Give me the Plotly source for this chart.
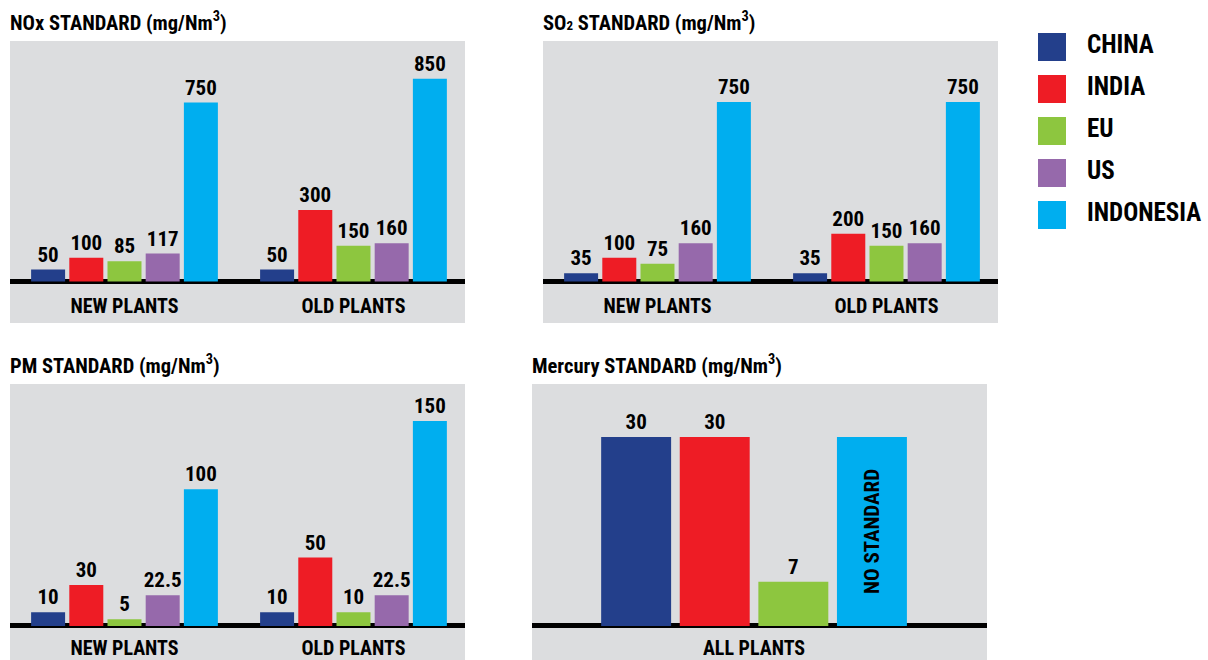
import plotly.graph_objects as go

W, H = 1208, 660

countries = ["CHINA", "INDIA", "EU", "US", "INDONESIA"]
colors = ["#233F8B", "#EE1C25", "#8DC63F", "#9669AB", "#00AEEF"]
plant_cats = ["NEW PLANTS", "OLD PLANTS"]

nox_new = [50, 100, 85, 117, 750]
nox_old = [50, 300, 150, 160, 850]
so2_new = [35, 100, 75, 160, 750]
so2_old = [35, 200, 150, 160, 750]
pm_new = [10, 30, 5, 22.5, 100]
pm_old = [10, 50, 10, 22.5, 150]

merc_countries = ["CHINA", "INDIA", "EU", "INDONESIA"]
merc_cat = ["ALL PLANTS"]
merc_values = [30, 30, 7, 30]
merc_labels = ["30", "30", "7", "NO STANDARD"]

FONT = "Roboto Condensed, Open Sans Condensed, DejaVu Sans Condensed, sans-serif"
BG = "#DCDDDF"

def px_x(a, b):
    return [a / W, b / W]

def px_y(top, bottom):
    return [1 - bottom / H, 1 - top / H]

fig = go.Figure()

panels = [
    ("x", "y", nox_new, nox_old),
    ("x2", "y2", so2_new, so2_old),
    ("x3", "y3", pm_new, pm_old),
]
for xa, ya, new, old in panels:
    for i, c in enumerate(countries):
        vals = [new[i], old[i]]
        fig.add_trace(go.Bar(
            x=plant_cats, y=vals, xaxis=xa, yaxis=ya,
            marker=dict(color=colors[i], line=dict(width=0)),
            text=[str(v) for v in vals], textposition="outside",
            textfont=dict(family=FONT, size=21, color="black", weight="bold"),
            constraintext="none", cliponaxis=False, showlegend=False,
            name=c, offsetgroup=c,
        ))

for i, c in enumerate(merc_countries):
    ci = countries.index(c)
    inside = merc_labels[i] == "NO STANDARD"
    fig.add_trace(go.Bar(
        x=merc_cat, y=[merc_values[i]], xaxis="x4", yaxis="y4",
        marker=dict(color=colors[ci], line=dict(width=0)),
        text=[merc_labels[i]],
        textposition="inside" if inside else "outside",
        textangle=-90 if inside else 0,
        insidetextanchor="middle",
        textfont=dict(family=FONT, size=21, color="black", weight="bold"),
        constraintext="none", cliponaxis=False, showlegend=False,
        name=c, offsetgroup=c,
    ))

# custom legend
fig.add_trace(go.Scatter(
    x=[0] * len(countries), y=countries, xaxis="x5", yaxis="y5",
    mode="markers", marker=dict(symbol="square", size=28, color=colors, line=dict(width=0)),
    showlegend=False, hoverinfo="skip",
))
fig.add_trace(go.Scatter(
    x=[1] * len(countries), y=countries, xaxis="x5", yaxis="y5",
    mode="text", text=countries, textposition="middle right",
    textfont=dict(family=FONT, size=25, color="black", weight="bold"),
    showlegend=False, hoverinfo="skip", cliponaxis=False,
))

tickfont = dict(family=FONT, size=20, color="black", weight="bold")
xcommon = dict(showgrid=False, zeroline=False, showline=False, ticks="",
               ticklabelposition="inside", fixedrange=True, tickfont=tickfont)
ycommon = dict(showgrid=False, showticklabels=False, ticks="", showline=False,
               zeroline=True, zerolinecolor="black", zerolinewidth=5, fixedrange=True)

fig.update_layout(
    width=W, height=H, margin=dict(l=0, r=0, t=0, b=0),
    paper_bgcolor="white", plot_bgcolor="rgba(0,0,0,0)",
    barmode="group", bargap=0.166, bargroupgap=0.11,
    xaxis=dict(domain=px_x(10, 465), range=[-0.5, 1.487], anchor="y",
               ticklabelstandoff=3, **xcommon),
    yaxis=dict(domain=px_y(41, 323), range=[-174, 1008], anchor="x", **ycommon),
    xaxis2=dict(domain=px_x(543, 998), range=[-0.5, 1.487], anchor="y2",
                ticklabelstandoff=3, **xcommon),
    yaxis2=dict(domain=px_y(41, 323), range=[-173, 1005], anchor="x2", **ycommon),
    xaxis3=dict(domain=px_x(10, 465), range=[-0.5, 1.487], anchor="y3",
                ticklabelstandoff=-2, **xcommon),
    yaxis3=dict(domain=px_y(384, 660), range=[-24.9, 177], anchor="x3", **ycommon),
    xaxis4=dict(domain=px_x(532, 987), range=[-0.589, 0.618], anchor="y4",
                ticklabelstandoff=-2, **xcommon),
    yaxis4=dict(domain=px_y(384, 660), range=[-5.4, 38.4], anchor="x4", **ycommon),
    xaxis5=dict(domain=px_x(1030, 1208), range=[-0.629, 4.457], anchor="y5",
                visible=False, fixedrange=True),
    yaxis5=dict(domain=px_y(26, 236), range=[4.5, -0.5], anchor="x5",
                visible=False, fixedrange=True, type="category"),
)

# grey panel backgrounds
for k in ["", "2", "3", "4"]:
    fig.add_shape(type="rect", xref=f"x{k} domain", yref=f"y{k} domain",
                  x0=0, x1=1, y0=0, y1=1, fillcolor=BG, line=dict(width=0),
                  layer="below")

titles = [
    (10, 22, "NOx STANDARD (mg/Nm<sup>3</sup>)"),
    (543, 22, "SO<span style='font-size:13px'>2</span> STANDARD (mg/Nm<sup>3</sup>)"),
    (10, 365, "PM STANDARD (mg/Nm<sup>3</sup>)"),
    (532, 365, "Mercury STANDARD (mg/Nm<sup>3</sup>)"),
]
for x, y, t in titles:
    fig.add_annotation(x=x / W, y=1 - y / H, xref="paper", yref="paper",
                       xanchor="left", yanchor="middle", text=t, showarrow=False,
                       xshift=-2,
                       font=dict(family=FONT, size=20.5, color="black", weight="bold"))

fig.write_html("out.html")
